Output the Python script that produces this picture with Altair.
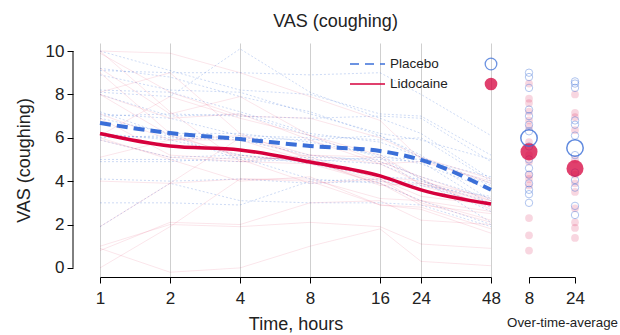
import altair as alt
import pandas as pd

# ---------------- data ----------------
times = [1, 2, 4, 8, 16, 24, 48]

placebo_patients = [
    [9.1, 9.0, 9.0, 8.9, 9.0, 8.0, 6.1],
    [10.0, 9.1, 8.2, 8.0, 7.1, 7.0, 5.2],
    [8.1, 7.9, 10.1, 8.1, 6.9, 6.2, 4.1],
    [7.0, 7.1, 7.0, 6.9, 7.0, 6.9, 4.9],
    [9.2, 8.8, 7.9, 7.2, 6.1, 5.1, 3.8],
    [6.0, 6.1, 5.0, 5.1, 5.0, 4.9, 2.9],
    [7.2, 6.1, 6.0, 5.9, 6.1, 5.2, 3.1],
    [8.0, 7.0, 7.1, 6.1, 5.9, 6.0, 4.0],
    [5.0, 5.0, 4.9, 5.0, 4.8, 4.0, 3.0],
    [5.9, 5.1, 5.2, 4.9, 5.1, 4.1, 2.1],
    [3.0, 3.0, 2.9, 4.0, 4.1, 3.9, 2.8],
    [1.9, 3.9, 3.1, 3.0, 3.0, 2.9, 1.9],
    [7.1, 6.9, 6.1, 6.0, 5.1, 5.0, 4.2],
    [6.1, 6.0, 5.9, 5.2, 4.9, 4.2, 3.2],
    [8.2, 8.1, 7.2, 6.2, 5.8, 5.1, 3.9],
    [4.9, 4.9, 5.1, 4.1, 3.9, 3.1, 2.0],
    [8.9, 8.2, 8.1, 7.1, 6.2, 5.9, 5.0],
    [4.1, 4.0, 4.1, 3.9, 4.0, 3.8, 3.3],
    [6.2, 5.9, 5.2, 4.8, 4.2, 4.1, 2.6],
    [6.9, 6.2, 6.2, 5.8, 5.2, 4.8, 3.6],
]

lidocaine_patients = [
    [9.9, 8.1, 7.0, 6.9, 6.0, 5.1, 4.1],
    [10.0, 9.9, 9.0, 7.9, 6.8, 5.0, 3.9],
    [9.2, 7.1, 7.9, 6.1, 4.9, 4.2, 3.1],
    [8.1, 9.0, 6.2, 5.0, 4.1, 3.0, 2.1],
    [7.1, 5.9, 6.1, 5.2, 5.1, 3.8, 2.9],
    [5.9, 5.1, 4.9, 4.8, 3.9, 3.1, 2.6],
    [1.9, 3.9, 6.0, 5.1, 4.2, 4.0, 3.2],
    [0.8, 2.1, 2.0, 3.0, 3.1, 2.2, 2.0],
    [0.0, 1.9, 4.1, 4.0, 2.9, 2.8, 1.8],
    [9.0, 6.2, 5.1, 5.0, 3.8, 3.9, 3.0],
    [8.0, 6.9, 7.1, 5.9, 4.8, 4.9, 4.0],
    [4.0, 3.9, 4.1, 4.1, 3.2, 3.1, 2.2],
    [6.1, 7.9, 6.9, 6.1, 5.2, 4.1, 2.7],
    [6.9, 5.2, 5.0, 3.9, 4.1, 3.3, 2.9],
    [1.0, 2.0, 1.9, 2.1, 1.9, 1.1, 0.9],
    [0.9, -0.2, 0.0, 1.0, 1.8, 0.3, 0.1],
    [5.1, 5.9, 5.9, 4.9, 4.0, 3.6, 3.0],
    [8.0, 6.1, 5.2, 4.9, 3.9, 2.9, 2.5],
    [10.0, 7.2, 4.9, 5.2, 4.8, 3.9, 3.1],
    [6.0, 5.0, 4.0, 4.2, 2.9, 2.7, 1.6],
]

placebo_mean = [6.68, 6.22, 5.94, 5.62, 5.39, 4.98, 3.6]
lidocaine_mean = [6.2, 5.62, 5.44, 4.88, 4.24, 3.6, 2.95]

avg_windows = ["8", "24"]
placebo_avg_8 = [9.0, 8.8, 8.3, 7.3, 7.0, 6.6, 6.3, 5.6, 5.0, 4.6, 4.3, 3.9, 3.6, 3.4, 3.0]
lidocaine_avg_8 = [8.5, 7.8, 7.6, 7.2, 6.8, 6.5, 5.8, 5.2, 4.9, 4.3, 4.1, 3.8, 2.3, 1.5, 0.8]
placebo_avg_24 = [8.6, 8.5, 8.3, 6.8, 6.6, 6.1, 5.2, 4.4, 4.05, 3.7, 2.86, 2.44]
lidocaine_avg_24 = [8.0, 7.15, 6.95, 6.35, 5.0, 4.3, 3.9, 3.5, 2.75, 2.1, 1.84, 1.38]
placebo_avg_mean = [5.99, 5.53]
lidocaine_avg_mean = [5.35, 4.58]

BLUE = "#3b6fd8"
RED = "#d6003c"
FONT = "Liberation Sans"
TXT = "#222222"

# ---------------- tables ----------------
rows = []
for i, pat in enumerate(placebo_patients):
    for t, v in zip(times, pat):
        rows.append({"id": f"P{i}", "t": t, "v": v})
df_p = pd.DataFrame(rows)
rows = []
for i, pat in enumerate(lidocaine_patients):
    for t, v in zip(times, pat):
        rows.append({"id": f"L{i}", "t": t, "v": v})
df_l = pd.DataFrame(rows)

df_pm = pd.DataFrame({"t": times, "v": placebo_mean})
df_lm = pd.DataFrame({"t": times, "v": lidocaine_mean})

df_pa = pd.DataFrame({"col": ["8"] * len(placebo_avg_8) + ["24"] * len(placebo_avg_24),
                      "v": placebo_avg_8 + placebo_avg_24})
df_la = pd.DataFrame({"col": ["8"] * len(lidocaine_avg_8) + ["24"] * len(lidocaine_avg_24),
                      "v": lidocaine_avg_8 + lidocaine_avg_24})
df_pam = pd.DataFrame({"col": avg_windows, "v": placebo_avg_mean})
df_lam = pd.DataFrame({"col": avg_windows, "v": lidocaine_avg_mean})
dummy = pd.DataFrame({"a": [0]})

# ---------------- scales / axes ----------------
xs = alt.Scale(type="log", domain=[1, 48], nice=False)
ys = alt.Scale(domain=[-0.42, 10.37], nice=False, zero=False)

xaxis = alt.Axis(values=times, format="d", grid=True, gridColor="#cfcfcf", gridWidth=1,
                 tickSize=6, labelFlush=False, labelPadding=7, titlePadding=9,
                 domainColor="black", tickColor="black", labelFontSize=17, titleFontSize=18)
yaxis = alt.Axis(values=[0, 2, 4, 6, 8, 10], domain=False, offset=27, tickSize=6,
                 labelPadding=3, grid=False, tickColor="black", labelFontSize=17,
                 titleFontSize=18, titlePadding=12)

X = alt.X("t:Q", scale=xs, axis=xaxis, title="Time, hours")
Y = alt.Y("v:Q", scale=ys, axis=yaxis, title="VAS (coughing)")

pl = alt.Chart(df_p).mark_line(color=BLUE, strokeWidth=1, strokeDash=[2, 2], opacity=0.25).encode(
    x=X, y=Y, detail="id:N")
ll = alt.Chart(df_l).mark_line(color=RED, strokeWidth=0.8, opacity=0.13).encode(
    x=X, y=Y, detail="id:N")
pm = alt.Chart(df_pm).mark_line(color=BLUE, strokeWidth=4, strokeDash=[11, 6],
                                interpolate="monotone").encode(x=X, y=Y)
lm = alt.Chart(df_lm).mark_line(color=RED, strokeWidth=3.5,
                                interpolate="monotone").encode(x=X, y=Y)

yline = alt.Chart(dummy).mark_rule(color="black", strokeWidth=1).encode(
    x=alt.value(-27), y=alt.datum(0), y2=alt.datum(10))

leg1 = alt.Chart(dummy).mark_rule(color=BLUE, strokeWidth=2, strokeDash=[9, 6], opacity=0.75).encode(
    x=alt.value(250), x2=alt.value(285), y=alt.value(21))
leg2 = alt.Chart(dummy).mark_rule(color=RED, strokeWidth=2, opacity=0.75).encode(
    x=alt.value(250), x2=alt.value(285), y=alt.value(41))
legt1 = alt.Chart(dummy).mark_text(text="Placebo", align="left", baseline="middle", fontSize=13.5,
                                   font=FONT, color=TXT).encode(x=alt.value(290), y=alt.value(21))
legt2 = alt.Chart(dummy).mark_text(text="Lidocaine", align="left", baseline="middle", fontSize=13.5,
                                   font=FONT, color=TXT).encode(x=alt.value(290), y=alt.value(41))
legc1 = alt.Chart(dummy).mark_point(shape="circle", filled=False, color=BLUE, size=135,
                                    strokeWidth=1.3, opacity=0.75).encode(x=alt.value(391), y=alt.value(21))
legc2 = alt.Chart(dummy).mark_circle(color=RED, size=160, opacity=0.75).encode(
    x=alt.value(391), y=alt.value(41))

main = alt.layer(pl, ll, pm, lm, yline, leg1, leg2, legt1, legt2, legc1, legc2)

# ---------------- right panel ----------------
xr = alt.X("col:N", scale=alt.Scale(type="point", domain=avg_windows, range=[429, 475], padding=0),
           axis=alt.Axis(orient="bottom", title="Over-time-average", titleFontSize=13.3, labelFontSize=17,
                         tickSize=6, labelAngle=0, grid=False, domainColor="black", tickColor="black",
                         labelPadding=7, titlePadding=9, titleX=462))
Yr = alt.Y("v:Q", scale=ys, axis=yaxis, title="VAS (coughing)")

pa = alt.Chart(df_pa).mark_point(shape="circle", filled=False, color=BLUE, size=55, strokeWidth=1,
                                 opacity=0.4).encode(x=xr, y=Yr)
la = alt.Chart(df_la).mark_circle(color=RED, size=60, opacity=0.16).encode(x=xr, y=Yr)
pam = alt.Chart(df_pam).mark_point(shape="circle", filled=False, color=BLUE, size=270, strokeWidth=1.5,
                                   opacity=0.8).encode(x=xr, y=Yr)
lam = alt.Chart(df_lam).mark_circle(color=RED, size=290, opacity=0.75).encode(x=xr, y=Yr)

right = alt.layer(la, pa, lam, pam)

chart = alt.layer(main, right).resolve_scale(x="independent").properties(
    width=391, height=234,
    title=alt.Title("VAS (coughing)", fontSize=18, font=FONT, fontWeight="normal", color=TXT,
                    dx=40, offset=11),
    padding={"left": 100, "top": 43, "right": 129, "bottom": 58},
    autosize=alt.AutoSizeParams(type="none"),
).configure_view(stroke=None).configure_axis(
    labelFont=FONT, titleFont=FONT, labelColor=TXT, titleColor=TXT, titleFontWeight="normal"
)

chart.save("out.html", embed_options={"renderer": "svg", "actions": False})
